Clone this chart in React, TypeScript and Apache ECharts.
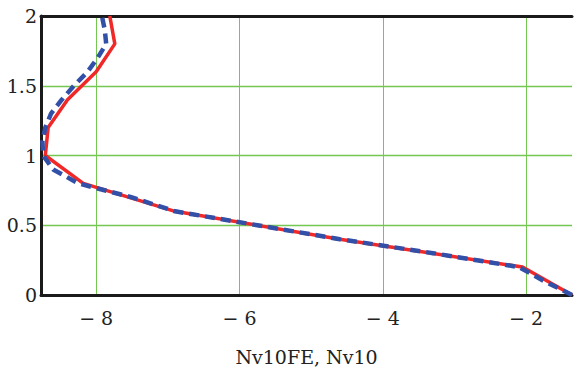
import React, { useEffect, useRef } from "react";
import * as echarts from "echarts";

const redX = [-1.36, -2.05, -4.6, -6.9, -8.18, -8.71, -8.67, -8.4, -8.0, -7.74, -7.81];
const redY = [0, 0.2, 0.4, 0.6, 0.8, 1.0, 1.2, 1.4, 1.6, 1.8, 2.0];

const blueX = [-1.36, -1.75, -2.1, -3.3, -4.6, -5.75, -6.9, -7.5, -8.25, -8.6, -8.74, -8.75, -8.71, -8.63, -8.48, -8.31, -8.12, -7.98, -7.86, -7.88, -7.92];
const blueY = [0, 0.1, 0.2, 0.3, 0.4, 0.5, 0.6, 0.7, 0.8, 0.9, 1.0, 1.1, 1.2, 1.3, 1.4, 1.5, 1.6, 1.7, 1.8, 1.9, 2.0];

const xTicks = [-8, -6, -4, -2];
const yTicks = [0, 0.5, 1, 1.5, 2];
const xMin = -8.77;
const xMax = -1.36;
const xTitle = "Nv10FE, Nv10";

const FONT = "DejaVu Serif";

export default function App() {
  const ref = useRef<HTMLDivElement>(null);
  useEffect(() => {
    if (!ref.current) return;
    const chart = echarts.init(ref.current, null, { renderer: "svg" });
    const gridColor = "#74c852";
    chart.setOption({
      animation: false,
      backgroundColor: "#ffffff",
      textStyle: { fontFamily: FONT },
      grid: { left: 41, right: 4, top: 16, bottom: 72, containLabel: false, outerBoundsMode: "none" },
      xAxis: [
        {
          type: "value",
          min: xMin,
          max: xMax,
          axisLine: { show: true, onZero: false, lineStyle: { color: "#1a1a1a", width: 3 } },
          axisTick: { show: false, customValues: xTicks },
          axisLabel: {
            customValues: xTicks,
            fontFamily: FONT,
            fontSize: 19,
            color: "#222",
            margin: 13,
            formatter: (v: number) => (v < 0 ? "\u2212 " + Math.abs(v) : String(v)),
          },
          splitLine: { show: true, lineStyle: { color: gridColor, width: 1 } },
          name: xTitle,
          nameLocation: "middle",
          nameGap: 52,
          nameTextStyle: { fontFamily: FONT, fontSize: 19, color: "#222" },
        },
        {
          type: "value",
          position: "top",
          min: xMin,
          max: xMax,
          axisLine: { show: true, onZero: false, lineStyle: { color: "#1a1a1a", width: 3 } },
          axisTick: { show: false },
          axisLabel: { show: false },
          splitLine: { show: false },
        },
      ],
      yAxis: {
        type: "value",
        min: 0,
        max: 2,
        interval: 0.5,
        axisLine: { show: true, onZero: false, lineStyle: { color: "#1a1a1a", width: 3 } },
        axisTick: { show: false },
        axisLabel: {
          fontFamily: FONT,
          fontSize: 19,
          color: "#222",
          margin: 4,
          formatter: (v: number) => (yTicks.includes(v) ? String(v) : ""),
        },
        splitLine: { show: true, lineStyle: { color: gridColor, width: 1.3 } },
      },
      series: [
        {
          type: "line",
          data: redX.map((x, i) => [x, redY[i]]),
          showSymbol: false,
          symbol: "none",
          lineStyle: { color: "#f02828", width: 3.5 },
          z: 3,
        },
        {
          type: "line",
          data: blueX.map((x, i) => [x, blueY[i]]),
          showSymbol: false,
          symbol: "none",
          lineStyle: { color: "#3350a8", width: 4.5, type: [10, 6] },
          z: 4,
        },
      ],
    });
    return () => chart.dispose();
  }, []);
  return <div ref={ref} style={{ width: 576, height: 367, position: "absolute", left: 0, top: 0 }} />;
}
